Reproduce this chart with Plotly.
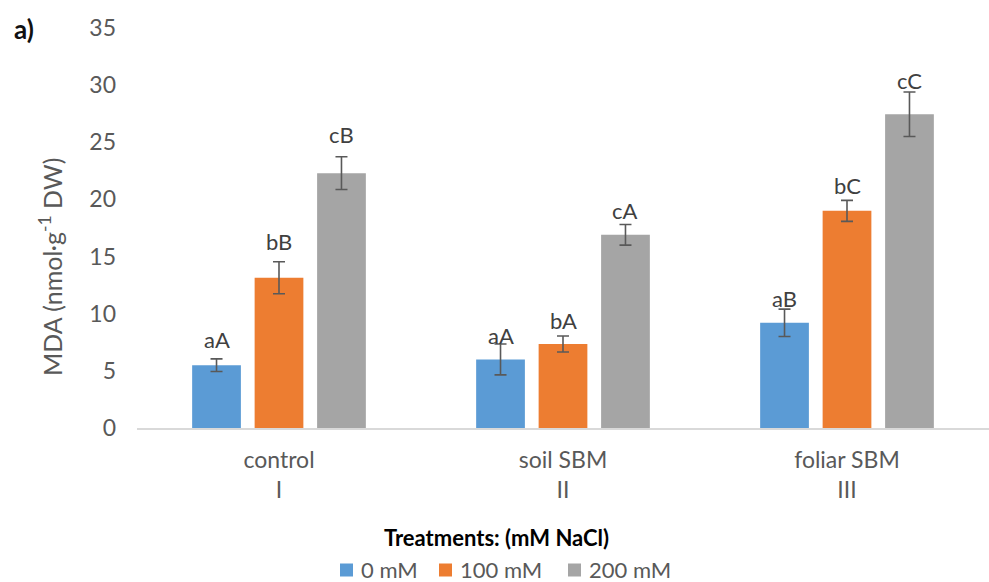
import plotly.graph_objects as go

# Treatment groups (x axis) and NaCl levels (series)
treatments = ["control<br>I", "soil SBM<br>II", "foliar SBM<br>III"]
salt_levels = ["0 mM", "100 mM", "200 mM"]

# MDA content (nmol·g-1 DW), mean and error per salt level across treatments
mda_0 = [5.5, 6.0, 9.2]
mda_100 = [13.15, 7.35, 19.0]
mda_200 = [22.3, 16.9, 27.45]
err_0 = [0.55, 1.35, 1.2]
err_100 = [1.4, 0.7, 0.92]
err_200 = [1.43, 0.9, 1.95]

# Significance letters
letters_0 = ["aA", "aA", "aB"]
letters_100 = ["bB", "bA", "bC"]
letters_200 = ["cB", "cA", "cC"]

colors = ["#5B9BD5", "#ED7D31", "#A5A5A5"]
series = [(mda_0, err_0, letters_0), (mda_100, err_100, letters_100), (mda_200, err_200, letters_200)]
# vertical pixel offset of each letter above its error bar
label_shift = [[19, 9, 11], [20, 16, 15], [22, 14, 12]]

FONT = "Lato"
TXT = "#595959"
bargap = 0.34
bargroupgap = 0.22

W, H = 989, 582
ML, MR, MT, MB = 137, 0, 28, 154
PW, PH = W - ML - MR, H - MT - MB


def px_to_paper(px, py):
    return (px - ML) / PW, (H - MB - py) / PH


fig = go.Figure()
for name, (vals, errs, _), col in zip(salt_levels, series, colors):
    fig.add_trace(go.Bar(
        x=treatments, y=vals, name=name, marker_color=col, marker_line_width=0,
        showlegend=False,
        error_y=dict(type="data", array=errs, visible=True, color="#595959",
                     thickness=1.6, width=6),
    ))

slot = (1 - bargap) / len(series)
annotations = []
for k, (vals, errs, labs) in enumerate(series):
    off = (k - (len(series) - 1) / 2) * slot
    for i in range(len(treatments)):
        annotations.append(dict(
            x=i + off, y=vals[i] + errs[i], xref="x", yref="y", text=labs[i],
            showarrow=False, yanchor="middle", yshift=label_shift[k][i],
            font=dict(family=FONT, size=22, color="#404040"),
        ))

yt_x, yt_y = px_to_paper(50, 267)
xt_x, xt_y = px_to_paper(496, 537)
pl_x, pl_y = px_to_paper(24, 29)
annotations += [
    dict(text="MDA (nmol·g<sup>-1</sup> DW)", x=yt_x, y=yt_y, xref="paper", yref="paper",
         textangle=-90, showarrow=False, xanchor="center", yanchor="middle",
         font=dict(family=FONT, size=25, color=TXT)),
    dict(text="<b>Treatments: (mM NaCl)</b>", x=xt_x, y=xt_y, xref="paper", yref="paper",
         showarrow=False, xanchor="center", yanchor="middle",
         font=dict(family=FONT, size=22, color="#000000")),
    dict(text="<b>a)</b>", x=pl_x, y=pl_y, xref="paper", yref="paper",
         showarrow=False, xanchor="center", yanchor="middle",
         font=dict(family=FONT, size=26, color="#111111")),
]

# legend row: colour square followed by its label
shapes = []
legend_left = [340, 439, 568]
sq = 13
leg_y = 569
for name, col, lx in zip(salt_levels, colors, legend_left):
    x0, y0 = px_to_paper(lx, leg_y + 1 + sq / 2)
    x1, y1 = px_to_paper(lx + sq, leg_y + 1 - sq / 2)
    shapes.append(dict(type="rect", xref="paper", yref="paper", x0=x0, y0=y0, x1=x1, y1=y1,
                       fillcolor=col, line=dict(width=0)))
    tx, ty = px_to_paper(lx + sq + 6, leg_y)
    annotations.append(dict(text=name, x=tx, y=ty, xref="paper", yref="paper",
                            showarrow=False, xanchor="left", yanchor="middle",
                            font=dict(family=FONT, size=22, color=TXT)))

fig.update_layout(
    width=W, height=H,
    margin=dict(l=ML, r=MR, t=MT, b=MB, autoexpand=False),
    paper_bgcolor="white", plot_bgcolor="white",
    barmode="group", bargap=bargap, bargroupgap=bargroupgap,
    font=dict(family=FONT, size=22, color=TXT),
    showlegend=False,
    annotations=annotations,
    shapes=shapes,
)
fig.update_xaxes(showline=True, linecolor="#D9D9D9", linewidth=1.5, showgrid=False,
                 ticks="", ticklabelstandoff=11, range=[-0.5, 2.5], automargin=False,
                 tickfont=dict(family=FONT, size=23, color=TXT))
fig.update_yaxes(range=[0, 35], dtick=5, showgrid=False, showline=False, zeroline=False,
                 ticks="", ticklabelstandoff=20, automargin=False,
                 tickfont=dict(family=FONT, size=23, color=TXT))

fig.write_html("out.html")
